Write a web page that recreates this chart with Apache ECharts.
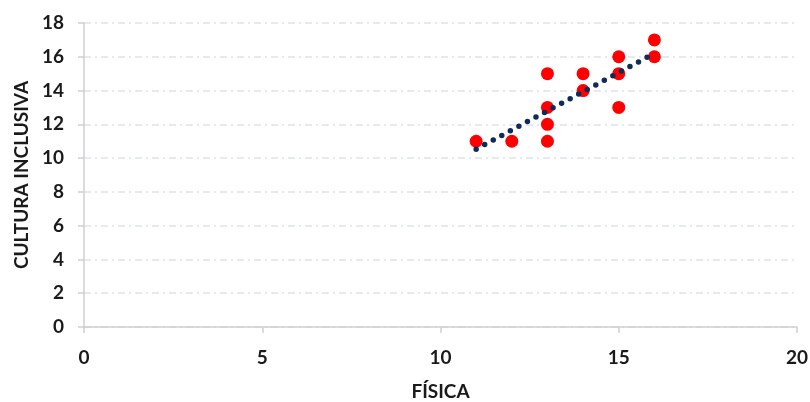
<!DOCTYPE html>
<html>
<head>
<meta charset="utf-8">
<script src="https://cdn.jsdelivr.net/npm/echarts@6/dist/echarts.min.js"></script>
<style>
html,body{margin:0;padding:0;background:#fff;}
#chart{width:810px;height:402px;}
</style>
</head>
<body>
<div id="chart"></div>
<script>
const fisica = [11, 12, 13, 13, 13, 13, 14, 14, 15, 15, 15, 16, 16];
const cultura = [11, 11, 15, 13, 12, 11, 15, 14, 16, 15, 13, 17, 16];
const trendX = [11, 16];
const trendY = [10.53, 16.2];
const xTitle = 'FÍSICA';
const yTitle = 'CULTURA INCLUSIVA';

const pts = fisica.map((x, i) => [x, cultura[i]]);
const trend = trendX.map((x, i) => [x, trendY[i]]);
const font = 'Lato, "Open Sans", sans-serif';

const chart = echarts.init(document.getElementById('chart'));
chart.setOption({
  animation: false,
  grid: {left: 84, right: 13, top: 23, bottom: 75, containLabel: false, outerBoundsMode: 'none'},
  xAxis: {
    type: 'value', min: 0, max: 20, interval: 5,
    name: xTitle, nameLocation: 'middle', nameGap: 55,
    nameTextStyle: {fontFamily: font, fontWeight: 'bold', fontSize: 19, color: '#1a1a1a'},
    axisLine: {show: true, lineStyle: {color: '#cfcfcf', width: 1.5}},
    axisTick: {show: true, length: 6, lineStyle: {color: '#cfcfcf', width: 1.5}},
    axisLabel: {fontFamily: font, fontWeight: 'bold', fontSize: 19, color: '#1a1a1a', margin: 21},
    splitLine: {show: false}
  },
  yAxis: {
    type: 'value', min: 0, max: 18, interval: 2,
    name: yTitle, nameLocation: 'middle', nameGap: 52,
    nameTextStyle: {fontFamily: font, fontWeight: 'bold', fontSize: 19, color: '#1a1a1a'},
    axisLine: {show: true, lineStyle: {color: '#cfcfcf', width: 1.5}},
    axisTick: {show: true, length: 6, lineStyle: {color: '#cfcfcf', width: 1.5}},
    axisLabel: {fontFamily: font, fontWeight: 'bold', fontSize: 19, color: '#1a1a1a', margin: 20},
    splitLine: {show: true, lineStyle: {color: '#dde4ee', width: 1.5, type: [7, 4, 2, 4]}}
  },
  series: [
    {
      type: 'line', data: trend, showSymbol: false, symbol: 'none',
      lineStyle: {color: '#0f2b5b', width: 5.5, type: [0, 9.7], cap: 'round'},
      z: 3
    },
    {
      type: 'scatter', data: pts, symbolSize: 13,
      itemStyle: {color: '#ff0000', opacity: 1},
      z: 2
    }
  ]
});
</script>
</body>
</html>
